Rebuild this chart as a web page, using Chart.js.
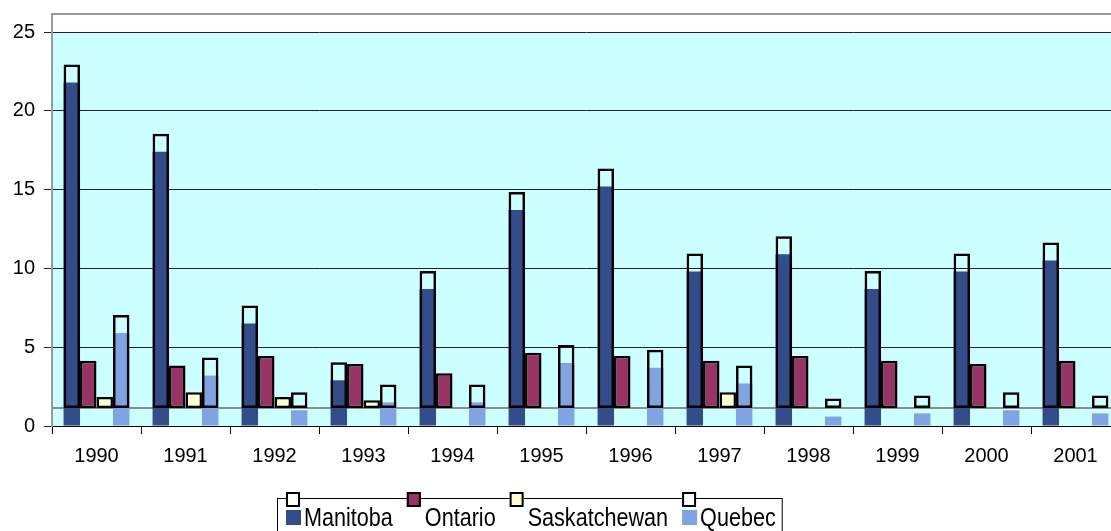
<!DOCTYPE html>
<html>
<head>
<meta charset="utf-8">
<script src="https://cdn.jsdelivr.net/npm/chart.js@4.4.0/dist/chart.umd.min.js"></script>
<style>
  html, body { margin: 0; padding: 0; background: #fff; overflow: hidden; }
  #wrap { width: 1111px; height: 531px; overflow: hidden; }
  canvas { display: block; }
</style>
</head>
<body>
<div id="wrap"><canvas id="chart" width="1130" height="531" style="width:1130px;height:531px"></canvas></div>
<script>
const years = ['1990', '1991', '1992', '1993', '1994', '1995', '1996', '1997', '1998', '1999', '2000', '2001'];
const seriesNames = ['Manitoba', 'Ontario', 'Saskatchewan', 'Quebec'];
const manitoba = [21.8, 17.4, 6.5, 2.9, 8.7, 13.7, 15.2, 9.8, 10.9, 8.7, 9.8, 10.5];
const ontario = [3.0, 2.7, 3.3, 2.8, 2.2, 3.5, 3.3, 3.0, 3.3, 3.0, 2.8, 3.0];
const saskatchewan = [0.7, 1.0, 0.7, 0.5, 0, 0, 0, 1.0, 0, 0, 0, 0];
const quebec = [5.9, 3.2, 1.0, 1.5, 1.5, 4.0, 3.7, 2.7, 0.6, 0.8, 1.0, 0.8];
const yTicks = [0, 5, 10, 15, 20, 25];

// the outlined copy of the chart is drawn a little higher than the filled one
const layerShift = 1.14;

const FONT = '"Liberation Sans", Arial, sans-serif';
const fills = ['#334C8A', 'rgba(0,0,0,0)', 'rgba(0,0,0,0)', '#80A4E2'];
const outlineFills = ['rgba(0,0,0,0)', '#993366', '#FFFFCC', 'rgba(0,0,0,0)'];
const legendTop = ['#ffffff', '#993366', '#FFFFCC', '#ffffff'];
const legendBottom = ['#334C8A', null, null, '#80A4E2'];
const allSeries = [manitoba, ontario, saskatchewan, quebec];

const plotBg = {
  id: 'plotBg',
  beforeDraw(chart) {
    const { ctx, chartArea } = chart;
    ctx.save();
    ctx.fillStyle = '#fff';
    ctx.fillRect(0, 0, chart.width, chart.height);
    ctx.fillStyle = '#CCFFFF';
    ctx.fillRect(chartArea.left, chartArea.top, chartArea.right - chartArea.left, chartArea.bottom - chartArea.top);
    ctx.restore();
  },
  beforeDatasetsDraw(chart) {
    // frame of the shifted layer
    const { ctx, chartArea } = chart;
    const y2 = chart.scales.y2;
    const top = y2.getPixelForValue(yTicks[yTicks.length - 1]);
    const base = y2.getPixelForValue(0);
    ctx.save();
    ctx.strokeStyle = '#9a9a9a';
    ctx.lineWidth = 2;
    ctx.beginPath();
    ctx.moveTo(chartArea.left, base);
    ctx.lineTo(chartArea.left, top);
    ctx.lineTo(chartArea.right, top);
    ctx.stroke();
    ctx.strokeStyle = '#8c8c8c';
    ctx.beginPath();
    ctx.moveTo(chartArea.left, base);
    ctx.lineTo(chartArea.right, base);
    ctx.stroke();
    ctx.restore();
  }
};

const legendBox = {
  id: 'legendBox',
  afterDraw(chart) {
    const ctx = chart.ctx;
    ctx.save();
    ctx.font = '21.6px ' + FONT;
    const left = 277, top = 498;
    let x = left + 9;
    const pos = seriesNames.map(name => {
      const p = x;
      x += 18 + ctx.measureText(name).width + 14;
      return p;
    });
    const right = x - 14 + 6;
    ctx.fillStyle = '#fff';
    ctx.fillRect(left, top, right - left, 60);
    ctx.strokeStyle = '#000';
    ctx.lineWidth = 1;
    ctx.strokeRect(left + 0.5, top + 0.5, right - left, 60);
    seriesNames.forEach((name, i) => {
      const mx = pos[i];
      if (legendBottom[i]) {
        ctx.fillStyle = legendBottom[i];
        ctx.fillRect(mx, 510, 15, 15);
      }
      ctx.fillStyle = legendTop[i];
      ctx.fillRect(mx, 492, 14, 15);
      ctx.strokeStyle = '#000';
      ctx.lineWidth = 2;
      ctx.strokeRect(mx + 1, 493, 12, 13);
      ctx.fillStyle = '#000';
      ctx.save();
      ctx.translate(mx + 18, 526);
      ctx.scale(1, 1.22);
      ctx.textBaseline = 'alphabetic';
      ctx.fillText(name, 0, 0);
      ctx.restore();
    });
    ctx.restore();
  }
};

const datasets = [];
// outlined layer first so it sits on top; each pair shares one slot via `stack`
allSeries.forEach((data, i) => {
  datasets.push({
    label: seriesNames[i],
    data: data,
    stack: 'slot' + i,
    yAxisID: 'y2',
    backgroundColor: outlineFills[i],
    borderColor: '#000',
    borderWidth: 2.5,
    borderSkipped: false
  });
});
allSeries.forEach((data, i) => {
  datasets.push({
    label: seriesNames[i] + ' fill',
    data: data,
    stack: 'slot' + i,
    yAxisID: 'y',
    backgroundColor: fills[i],
    borderWidth: 0
  });
});

new Chart(document.getElementById('chart'), {
  type: 'bar',
  data: { labels: years, datasets: datasets },
  options: {
    responsive: false,
    animation: false,
    devicePixelRatio: 1,
    categoryPercentage: 0.74,
    barPercentage: 1.0,
    layout: { padding: { top: 32, left: 0, right: 10, bottom: 0 } },
    plugins: {
      legend: { display: false },
      tooltip: { enabled: false }
    },
    scales: {
      x: {
        type: 'category',
        offset: true,
        grid: { display: true, drawOnChartArea: false, offset: true, tickLength: 8, color: '#000' },
        border: { color: '#000', width: 1 },
        ticks: { color: '#000', font: { family: FONT, size: 20 }, padding: 10, maxRotation: 0 },
        afterFit(scale) { scale.height = 105; }
      },
      y: {
        min: 0,
        max: 25,
        ticks: { stepSize: 5, color: '#000', font: { family: FONT, size: 20 }, padding: 9 },
        grid: { color: '#222', tickLength: 8, lineWidth: 1 },
        border: { color: '#9a9a9a', width: 2 },
        afterFit(scale) { scale.width = 52; }
      },
      y2: {
        display: false,
        min: 0 - layerShift,
        max: 25 - layerShift
      }
    }
  },
  plugins: [plotBg, legendBox]
});
</script>
</body>
</html>
